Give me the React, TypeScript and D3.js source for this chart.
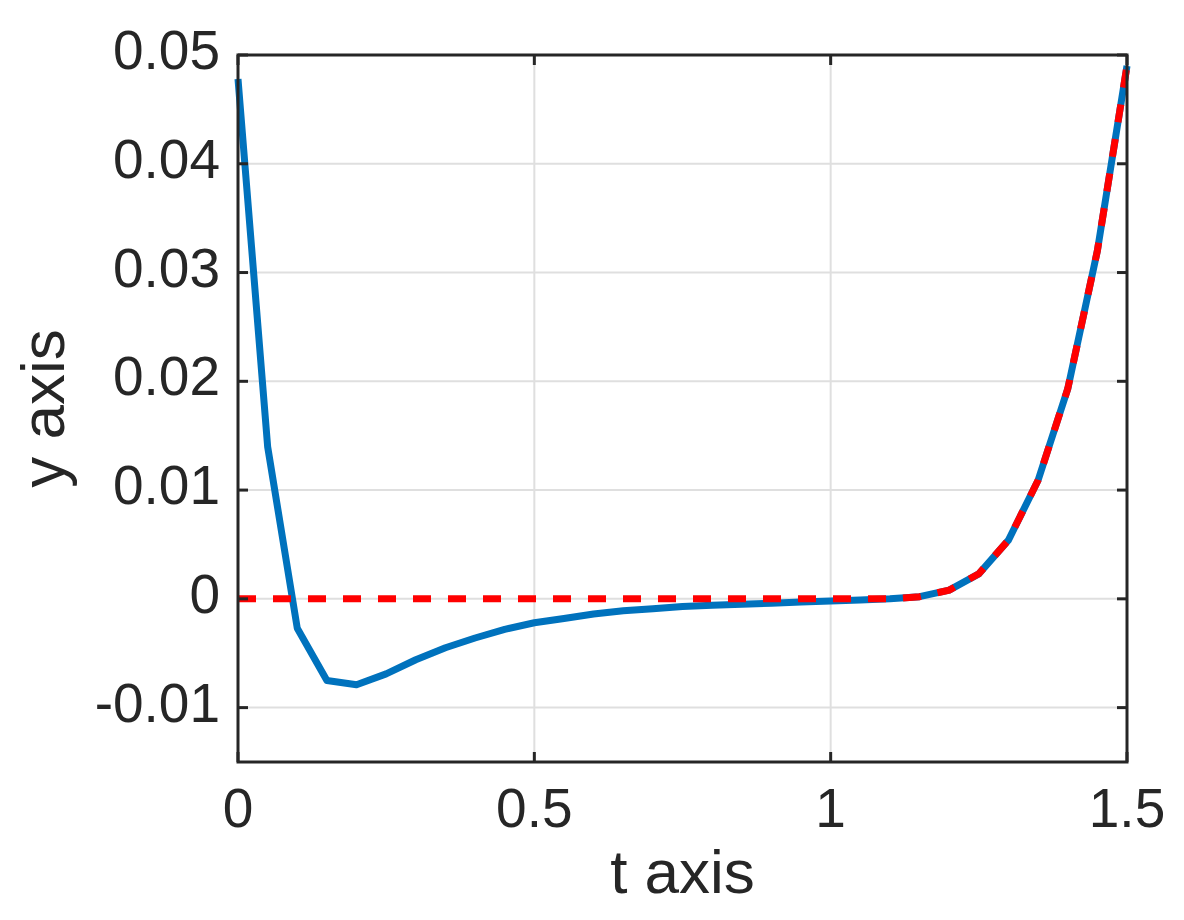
import React from "react";
import * as d3 from "d3";

const tValues = [0,0.05,0.1,0.15,0.2,0.25,0.3,0.35,0.4,0.45,0.5,0.55,0.6,0.65,0.7,0.75,0.8,0.85,0.9,0.95,1.0,1.05,1.1,1.15,1.2,1.25,1.3,1.35,1.4,1.45,1.5];
const blueValues = [0.0478,0.0140,-0.0027,-0.0075,-0.0079,-0.0069,-0.0056,-0.0045,-0.0036,-0.0028,-0.0022,-0.0018,-0.0014,-0.0011,-0.0009,-0.0007,-0.0006,-0.0005,-0.0004,-0.0003,-0.0002,-0.0001,0.0000,0.0002,0.0008,0.0023,0.0054,0.0109,0.0193,0.0320,0.0490];
const redValues = [0,0,0,0,0,0,0,0,0,0,0,0,0,0,0,0,0,0,0,0,0,0,0,0.0002,0.0008,0.0023,0.0054,0.0109,0.0193,0.0320,0.0490];
const xTicks = [0, 0.5, 1, 1.5];
const xTickLabels = ["0", "0.5", "1", "1.5"];
const yTicks = [-0.01, 0, 0.01, 0.02, 0.03, 0.04, 0.05];
const yTickLabels = ["-0.01", "0", "0.01", "0.02", "0.03", "0.04", "0.05"];

export default function App() {
  const W = 1184, H = 920;
  const L = 238, R = 1127, T = 55, B = 762;
  const x = d3.scaleLinear().domain([0, 1.5]).range([L, R]);
  const y = d3.scaleLinear().domain([-0.015, 0.05]).range([B, T]);
  const line = d3.line<number>().x((_, i) => x(tValues[i])).y(d => y(d));
  const font = "'Liberation Sans', Arial, Helvetica, sans-serif";
  const axisColor = "#262626";
  const grid = "#dfdfdf";
  const tickLen = 10;
  return (
    <svg width={W} height={H} style={{ position: "absolute", left: 0, top: 0, background: "#fff" }} fontFamily={font}>
      <rect x={0} y={0} width={W} height={H} fill="#fff" />
      {xTicks.map((t, i) => (
        <line key={"gx" + i} x1={x(t)} x2={x(t)} y1={T} y2={B} stroke={grid} strokeWidth={2} />
      ))}
      {yTicks.map((t, i) => (
        <line key={"gy" + i} x1={L} x2={R} y1={y(t)} y2={y(t)} stroke={grid} strokeWidth={2} />
      ))}
      <path d={line(blueValues) || ""} fill="none" stroke="#0072BD" strokeWidth={7} strokeLinejoin="round" />
      <path d={line(redValues) || ""} fill="none" stroke="#FF0000" strokeWidth={7} strokeDasharray="18 17" />
      {xTicks.map((t, i) => (
        <g key={"tx" + i}>
          <line x1={x(t)} x2={x(t)} y1={B} y2={B - tickLen} stroke={axisColor} strokeWidth={3} />
          <line x1={x(t)} x2={x(t)} y1={T} y2={T + tickLen} stroke={axisColor} strokeWidth={3} />
          <text x={x(t)} y={827} textAnchor="middle" fontSize={55} fill={axisColor}>{xTickLabels[i]}</text>
        </g>
      ))}
      {yTicks.map((t, i) => (
        <g key={"ty" + i}>
          <line x1={L} x2={L + tickLen} y1={y(t)} y2={y(t)} stroke={axisColor} strokeWidth={3} />
          <line x1={R} x2={R - tickLen} y1={y(t)} y2={y(t)} stroke={axisColor} strokeWidth={3} />
          <text x={220} y={y(t) + 14} textAnchor="end" fontSize={55} fill={axisColor}>{yTickLabels[i]}</text>
        </g>
      ))}
      <rect x={L} y={T} width={R - L} height={B - T} fill="none" stroke={axisColor} strokeWidth={3} />
      <text x={(L + R) / 2} y={893} textAnchor="middle" fontSize={62} fill={axisColor}>t axis</text>
      <text transform={`translate(64, ${(T + B) / 2}) rotate(-90)`} textAnchor="middle" fontSize={62} fill={axisColor}>y axis</text>
    </svg>
  );
}
